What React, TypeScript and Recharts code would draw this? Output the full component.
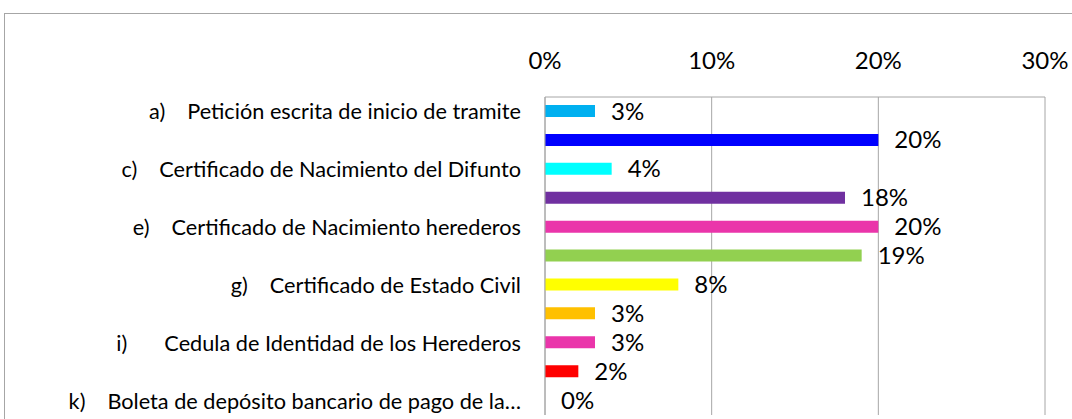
import React from 'react';
import { BarChart, Bar, XAxis, YAxis, CartesianGrid, Cell, LabelList, ReferenceDot } from 'recharts';

// letters of the requirements (a..k), only every other one gets its text drawn on the axis
const letters = ['a', 'b', 'c', 'd', 'e', 'f', 'g', 'h', 'i', 'j', 'k'];
const descriptions = [
  'Petición escrita de inicio de tramite',
  '',
  'Certificado de Nacimiento del Difunto',
  '',
  'Certificado de Nacimiento herederos',
  '',
  'Certificado de Estado Civil',
  '',
  'Cedula de Identidad de los Herederos',
  '',
  'Boleta de depósito bancario de pago de la…',
];
// share of answers, in percent
const percents = [3, 20, 4, 18, 20, 19, 8, 3, 3, 2, 0];
const barColors = [
  '#00B0F0', '#0000FF', '#00FFFF', '#7030A0', '#EA35AA', '#92D050',
  '#FFFF00', '#FFC000', '#EA35AA', '#FF0000', '#A5A5A5',
];
const xTicks = [0, 10, 20, 30];

const FONT = 'Lato, "Open Sans", sans-serif';
const GRID = '#A6A6A6';

const data = letters.map((l, i) => ({
  name: l,
  desc: descriptions[i],
  value: percents[i],
}));

function CategoryTick(props: any) {
  const { x, y, payload } = props;
  const row = data.find((d) => d.name === payload.value);
  if (!row) return null;
  const gap = row.name === 'i' ? 37 : 22;
  return (
    <text x={x} y={y} dy={8} textAnchor="end" fontSize={21.7} fontFamily={FONT} fill="#000">
      <tspan>{row.name})</tspan>
      <tspan dx={gap}>{row.desc}</tspan>
    </text>
  );
}

const pct = (v: any) => `${v}%`;

export default function App() {
  return (
    <div style={{ position: 'fixed', left: 0, top: 0, width: 1072, height: 419, overflow: 'hidden', background: '#fff' }}>
      <div
        style={{
          position: 'absolute',
          left: 4,
          top: 13,
          width: 1100,
          height: 440,
          border: `1px solid ${GRID}`,
          boxSizing: 'border-box',
        }}
      >
        <BarChart
          width={1098}
          height={438}
          data={data}
          layout="vertical"
          margin={{ top: 0, right: 58, bottom: 37, left: 0 }}
          barCategoryGap={0}
        >
          <CartesianGrid horizontal={false} stroke={GRID} />
          <XAxis
            type="number"
            orientation="top"
            domain={[0, 30]}
            ticks={xTicks}
            height={83}
            axisLine={{ stroke: GRID }}
            tickLine={false}
            tickSize={0}
            tickMargin={28}
            tickFormatter={pct}
            tick={{ fontSize: 24, fontFamily: FONT, fill: '#000' }}
          />
          <YAxis
            type="category"
            dataKey="name"
            width={540}
            interval={1}
            axisLine={{ stroke: GRID }}
            tickLine={false}
            tickSize={0}
            tickMargin={24}
            tick={<CategoryTick />}
          />
          <Bar dataKey="value" barSize={12} isAnimationActive={false}>
            {data.map((d, i) => (
              <Cell key={d.name} fill={barColors[i]} />
            ))}
            <LabelList
              dataKey="value"
              position="right"
              offset={16}
              formatter={pct}
              fill="#000"
              fontSize={24}
              fontFamily={FONT}
            />
          </Bar>
          {/* zero-length bars get no label from the Bar, so place theirs here */}
          {data
            .filter((d) => d.value === 0)
            .map((d) => (
              <ReferenceDot
                key={d.name}
                x={d.value}
                y={d.name}
                r={1}
                fill="none"
                stroke="none"
                label={{ value: pct(d.value), position: 'right', offset: 15, fill: '#000', fontSize: 24, fontFamily: FONT }}
              />
            ))}
        </BarChart>
      </div>
    </div>
  );
}
